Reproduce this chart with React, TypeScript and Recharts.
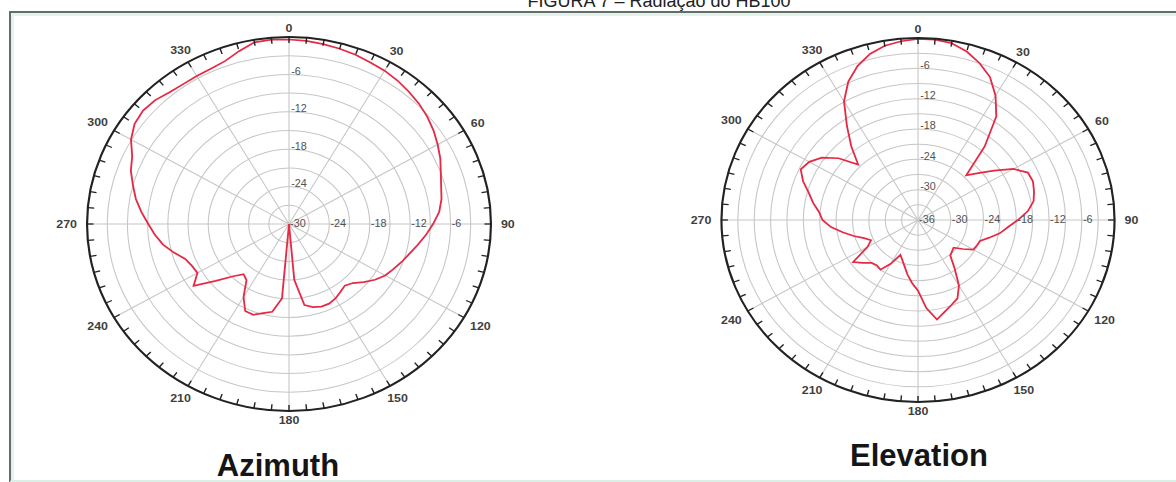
import React from "react";
import { RadarChart, Radar, PolarGrid, PolarAngleAxis, PolarRadiusAxis } from "recharts";

// ── data ─────────────────────────────────────────────────────────────────────

// direction in degrees, clockwise from the top, every 5°
const ANGLES = [
  0, 5, 10, 15, 20, 25, 30, 35, 40, 45, 50, 55, 60, 65, 70, 75, 80, 85,
  90, 95, 100, 105, 110, 115, 120, 125, 130, 135, 140, 145, 150, 155, 160, 165, 170, 175,
  180, 185, 190, 195, 200, 205, 210, 215, 220, 225, 230, 235, 240, 245, 250, 255, 260, 265,
  270, 275, 280, 285, 290, 295, 300, 305, 310, 315, 320, 325, 330, 335, 340, 345, 350, 355,
];

// relative gain in dB
const AZIMUTH_DB = [
  -0.4, -0.5, -0.7, -0.9, -1.1, -1.4, -1.6, -1.9, -2.3, -2.7, -3.2, -3.8, -4.5, -5.2, -6.0, -6.6, -7.0, -7.6,
  -8.6, -9.6, -10.6, -11.5, -12.2, -12.9, -13.5, -14.4, -15.5, -16.6, -17.1, -16.7, -16.2, -15.9, -15.9, -16.2, -16.8, -21.0,
  -30.0, -18.0, -15.7, -15.2, -14.5, -14.6, -16.5, -19.0, -19.5, -18.1, -15.8, -12.7, -14.3, -14.1, -13.6, -12.3, -11.0, -10.0,
  -9.1, -8.0, -6.9, -6.0, -5.0, -4.3, -2.9, -2.0, -1.7, -1.9, -2.4, -2.6, -2.6, -2.5, -2.2, -1.3, -0.4, -0.3,
];

const ELEVATION_DB = [
  -0.2, -0.2, -0.5, -1.5, -3.0, -4.8, -7.6, -11.0, -17.0, -23.5, -21.6, -19.0, -15.8, -13.8, -13.6, -14.0, -14.5, -15.8,
  -17.7, -19.5, -20.8, -22.5, -23.9, -24.1, -24.3, -26.0, -27.5, -27.2, -26.8, -24.3, -21.0, -18.9, -18.1, -17.2, -16.0, -18.5,
  -22.0, -23.5, -25.0, -26.5, -27.6, -28.4, -26.0, -24.0, -24.3, -24.0, -22.8, -21.5, -25.3, -26.5, -25.5, -23.8, -22.0, -20.0,
  -18.5, -17.8, -16.5, -15.3, -13.6, -12.3, -13.0, -14.5, -17.0, -20.5, -17.0, -13.3, -8.9, -5.8, -3.6, -2.0, -1.0, -0.5,
];

const AZ_RINGS = [-30, -27, -24, -21, -18, -15, -12, -9, -6, -3, 0];
const EL_RINGS = [-36, -33, -30, -27, -24, -21, -18, -15, -12, -9, -6, -3, 0];
const SPOKES = [0, 30, 60, 90, 120, 150, 180, 210, 240, 270, 300, 330];

const azData = ANGLES.map((a, i) => ({ angle: a, db: AZIMUTH_DB[i] }));
const elData = ANGLES.map((a, i) => ({ angle: a, db: ELEVATION_DB[i] }));

// ── layout ───────────────────────────────────────────────────────────────────

const W = 460;
const CX = 230;
const STRETCH = 1.08; // the scanned figure is a little wider than tall
const RED = "#e52a45";
const FONT = "'Liberation Sans', Arial, sans-serif";

// ── custom ticks ─────────────────────────────────────────────────────────────

function makeAngleTick(cx: number, cy: number, r: number) {
  return (props: any) => {
    const { payload } = props;
    const a = (-payload.coordinate * Math.PI) / 180;
    const ux = Math.cos(a);
    const uy = Math.sin(a);
    const v = Number(payload.value);
    const len = 6;
    const label = String(v);
    const off = 9 + label.length * 3.3 * Math.abs(ux);
    return (
      <g>
        <line
          x1={cx + ux * r}
          y1={cy + uy * r}
          x2={cx + ux * (r - len)}
          y2={cy + uy * (r - len)}
          stroke="#222"
          strokeWidth={1.3}
        />
        {v % 30 === 0 && (
          <text
            x={cx + ux * (r + off)}
            y={cy + uy * (r + off)}
            textAnchor="middle"
            dominantBaseline="central"
            fontSize={11.5}
            fontWeight="bold"
            fontFamily={FONT}
            fill="#3f3f3f"
            stroke="none"
          >
            {label}
          </text>
        )}
      </g>
    );
  };
}

function makeRadiusTick(cx: number, cy: number, min: number) {
  return (props: any) => {
    const { x, y, payload } = props;
    const v = Number(payload.value);
    if (v % 6 !== 0 || v === 0) return <g />;
    const d = x - cx;
    const txt = { fontSize: 10, fontFamily: FONT, fill: "#505050", stroke: "none" };
    return (
      <g>
        <text x={x + 1} y={y} textAnchor="start" dominantBaseline="central" {...txt}>
          {v}
        </text>
        {v !== min && (
          <text x={cx + 2} y={cy - d - 3} textAnchor="start" dominantBaseline="central" {...txt}>
            {v}
          </text>
        )}
      </g>
    );
  };
}

// ── polar panel ──────────────────────────────────────────────────────────────

type PanelProps = {
  data: { angle: number; db: number }[];
  rings: number[];
  centerX: number;
  cy: number;
  r: number;
};

function Panel({ data, rings, centerX, cy, r }: PanelProps) {
  const min = rings[0];
  return (
    <div
      style={{
        position: "absolute",
        left: centerX - CX,
        top: 0,
        width: W,
        height: 482,
        transform: `scaleX(${STRETCH})`,
        transformOrigin: `${CX}px 50%`,
      }}
    >
      <RadarChart
        width={W}
        height={482}
        cx={CX}
        cy={cy}
        outerRadius={r}
        startAngle={90}
        endAngle={-270}
        data={data}
        margin={{ top: 0, right: 0, bottom: 0, left: 0 }}
      >
        <PolarGrid gridType="circle" polarAngles={SPOKES} stroke="#c6c6c6" strokeWidth={1} />
        <PolarAngleAxis
          dataKey="angle"
          axisLineType="circle"
          axisLine={{ stroke: "#222", strokeWidth: 2 }}
          tickLine={false}
          tick={makeAngleTick(CX, cy, r)}
        />
        <PolarRadiusAxis
          angle={0}
          type="number"
          domain={[min, 0]}
          ticks={rings}
          tickCount={rings.length}
          axisLine={false}
          tickLine={false}
          tick={makeRadiusTick(CX, cy, min)}
        />
        <Radar
          dataKey="db"
          stroke={RED}
          strokeWidth={1.7}
          fill="none"
          fillOpacity={0}
          dot={false}
          isAnimationActive={false}
        />
      </RadarChart>
    </div>
  );
}

export default function App() {
  return (
    <div
      style={{
        position: "absolute",
        left: 0,
        top: 0,
        width: 1176,
        height: 482,
        overflow: "hidden",
        background: "#fff",
        fontFamily: FONT,
      }}
    >
      <div
        style={{
          position: "absolute",
          left: 0,
          width: 1176,
          top: -9,
          textAlign: "center",
          paddingLeft: 142,
          boxSizing: "border-box",
          fontSize: 18,
          lineHeight: "20px",
          color: "#222",
        }}
      >
        FIGURA 7 – Radiação do HB100
      </div>
      <div
        style={{
          position: "absolute",
          left: 9,
          top: 11,
          width: 1172,
          height: 467,
          borderTop: "2px solid #666c69",
          borderLeft: "2px solid #666c69",
          borderBottom: "3px solid #dcefe6",
          boxShadow: "inset 3px 3px 0 0 #e2f3ea",
        }}
      />
      <Panel data={azData} rings={AZ_RINGS} centerX={289} cy={224} r={187} />
      <Panel data={elData} rings={EL_RINGS} centerX={918} cy={220} r={182} />
      <div
        style={{
          position: "absolute",
          left: 178,
          width: 200,
          top: 450,
          textAlign: "center",
          fontSize: 31,
          lineHeight: "32px",
          fontWeight: "bold",
          color: "#151515",
        }}
      >
        Azimuth
      </div>
      <div
        style={{
          position: "absolute",
          left: 819,
          width: 200,
          top: 440,
          textAlign: "center",
          fontSize: 31,
          lineHeight: "32px",
          fontWeight: "bold",
          color: "#151515",
        }}
      >
        Elevation
      </div>
    </div>
  );
}
